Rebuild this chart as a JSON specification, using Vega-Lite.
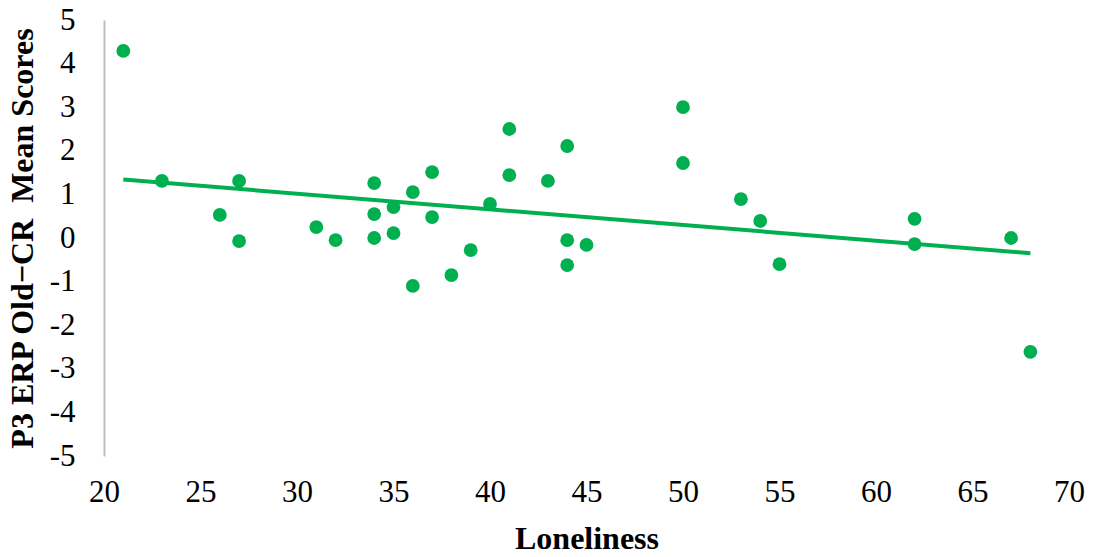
{
  "$schema": "https://vega.github.io/schema/vega-lite/v6.json",
  "width": 965,
  "height": 436,
  "autosize": "none",
  "padding": {"left": 104, "top": 20, "right": 24, "bottom": 101},
  "background": "white",
  "config": {
    "view": {"stroke": null},
    "font": "Liberation Serif"
  },
  "data": {
    "values": [
      {"loneliness": 21, "p3": 4.29},
      {"loneliness": 23, "p3": 1.31},
      {"loneliness": 26, "p3": 0.53},
      {"loneliness": 27, "p3": 1.31},
      {"loneliness": 27, "p3": -0.07},
      {"loneliness": 31, "p3": 0.25},
      {"loneliness": 32, "p3": -0.05},
      {"loneliness": 34, "p3": 1.26},
      {"loneliness": 34, "p3": 0.55},
      {"loneliness": 34, "p3": 0.0},
      {"loneliness": 35, "p3": 0.71},
      {"loneliness": 35, "p3": 0.11},
      {"loneliness": 36, "p3": -1.1},
      {"loneliness": 36, "p3": 1.05},
      {"loneliness": 37, "p3": 1.51},
      {"loneliness": 37, "p3": 0.48},
      {"loneliness": 38, "p3": -0.85},
      {"loneliness": 39, "p3": -0.28},
      {"loneliness": 40, "p3": 0.78},
      {"loneliness": 41, "p3": 2.5},
      {"loneliness": 41, "p3": 1.44},
      {"loneliness": 43, "p3": 1.31},
      {"loneliness": 44, "p3": 2.11},
      {"loneliness": 44, "p3": -0.05},
      {"loneliness": 44, "p3": -0.62},
      {"loneliness": 45, "p3": -0.16},
      {"loneliness": 50, "p3": 3.0},
      {"loneliness": 50, "p3": 1.72},
      {"loneliness": 53, "p3": 0.89},
      {"loneliness": 54, "p3": 0.39},
      {"loneliness": 55, "p3": -0.6},
      {"loneliness": 62, "p3": 0.44},
      {"loneliness": 62, "p3": -0.14},
      {"loneliness": 67, "p3": 0.0},
      {"loneliness": 68, "p3": -2.61}
    ]
  },
  "encoding": {
    "x": {
      "field": "loneliness",
      "type": "quantitative",
      "scale": {"domain": [20, 70], "nice": false, "zero": false},
      "axis": {
        "title": "Loneliness",
        "values": [20, 25, 30, 35, 40, 45, 50, 55, 60, 65, 70],
        "grid": false,
        "domain": false,
        "ticks": false,
        "labelFont": "Liberation Serif",
        "labelFontSize": 31,
        "labelColor": "black",
        "labelPadding": 21,
        "labelFlush": false,
        "titleFont": "Liberation Serif",
        "titleFontSize": 32,
        "titleFontWeight": "bold",
        "titleColor": "black",
        "titlePadding": 16
      }
    },
    "y": {
      "field": "p3",
      "type": "quantitative",
      "scale": {"domain": [-5, 5], "nice": false},
      "axis": {
        "title": "P3 ERP Old−CR\u00a0 Mean Scores",
        "values": [-5, -4, -3, -2, -1, 0, 1, 2, 3, 4, 5],
        "labelExpr": "replace(datum.label, '−', '-')",
        "grid": false,
        "domain": true,
        "domainColor": "#bfbfbf",
        "domainWidth": 2,
        "ticks": false,
        "labelFont": "Liberation Serif",
        "labelFontSize": 31,
        "labelColor": "black",
        "labelPadding": 29,
        "labelFlush": false,
        "titleFont": "Liberation Serif",
        "titleFontSize": 32,
        "titleFontWeight": "bold",
        "titleColor": "black",
        "titlePadding": 10
      }
    }
  },
  "layer": [
    {
      "data": {"values": [{"zero": 0}]},
      "mark": {"type": "rule", "color": "#bfbfbf", "strokeWidth": 2},
      "encoding": {
        "x": {"datum": 20},
        "x2": {"datum": 70},
        "y": {"field": "zero", "type": "quantitative"}
      }
    },
    {
      "mark": {"type": "line", "color": "#00b050", "strokeWidth": 4},
      "transform": [{"regression": "p3", "on": "loneliness"}]
    },
    {
      "mark": {"type": "circle", "color": "#00b050", "opacity": 1, "size": 190}
    }
  ]
}
